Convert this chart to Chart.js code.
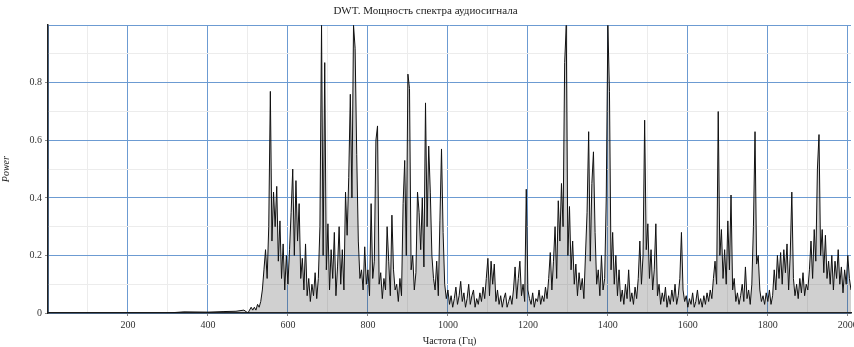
<!DOCTYPE html>
<html>
<head>
<meta charset="utf-8">
<script src="https://cdn.jsdelivr.net/npm/chart.js@4/dist/chart.umd.min.js"></script>
<style>
  html, body { margin: 0; padding: 0; background: #fff; }
  #wrap { width: 854px; height: 347px; }
</style>
</head>
<body>
<div id="wrap"><canvas id="spectrum" width="854" height="347"></canvas></div>
<script>
// flat part below 500 Hz
const lowFreqs = [0, 100, 200, 300, 340, 400, 440, 470, 490];
const lowPower = [0, 0, 0, 0, 0.004, 0.003, 0.005, 0.006, 0.01];

// main part, sampled every 4 Hz from 500 Hz
const gridStart = 500;
const gridStep = 4;
const power = [
  // 500 - 596
  0.00, 0.01, 0.02, 0.01, 0.02, 0.01, 0.03, 0.02, 0.04, 0.08, 0.15, 0.22, 0.12, 0.30, 0.77, 0.25, 0.42, 0.30, 0.44, 0.18, 0.32, 0.12, 0.24, 0.08, 0.20,
  // 600 - 696
  0.10, 0.22, 0.35, 0.50, 0.20, 0.46, 0.25, 0.38, 0.12, 0.19, 0.08, 0.24, 0.06, 0.12, 0.04, 0.10, 0.06, 0.14, 0.05, 0.12, 0.30, 1.00, 0.20, 0.87, 0.15,
  // 700 - 796
  0.31, 0.08, 0.22, 0.12, 0.28, 0.06, 0.16, 0.30, 0.10, 0.22, 0.08, 0.42, 0.27, 0.47, 0.76, 0.40, 1.00, 0.92, 0.55, 0.25, 0.12, 0.15, 0.08, 0.23, 0.10,
  // 800 - 896
  0.15, 0.06, 0.38, 0.12, 0.18, 0.60, 0.65, 0.10, 0.14, 0.05, 0.12, 0.08, 0.30, 0.18, 0.06, 0.34, 0.15, 0.08, 0.10, 0.04, 0.12, 0.06, 0.38, 0.53, 0.20,
  // 900 - 996
  0.83, 0.78, 0.15, 0.20, 0.08, 0.14, 0.42, 0.35, 0.22, 0.40, 0.16, 0.73, 0.30, 0.58, 0.42, 0.20, 0.12, 0.08, 0.18, 0.06, 0.32, 0.57, 0.28, 0.10, 0.05,
  // 1000 - 1096
  0.08, 0.03, 0.06, 0.02, 0.05, 0.09, 0.03, 0.06, 0.11, 0.04, 0.07, 0.02, 0.05, 0.10, 0.03, 0.06, 0.08, 0.02, 0.05, 0.03, 0.07, 0.04, 0.09, 0.05, 0.12,
  // 1100 - 1196
  0.19, 0.06, 0.18, 0.10, 0.17, 0.04, 0.08, 0.03, 0.06, 0.02, 0.05, 0.07, 0.02, 0.04, 0.06, 0.03, 0.08, 0.16, 0.05, 0.12, 0.18, 0.06, 0.10, 0.04, 0.43,
  // 1200 - 1296
  0.08, 0.05, 0.03, 0.07, 0.02, 0.05, 0.04, 0.08, 0.03, 0.06, 0.04, 0.09, 0.05, 0.12, 0.21, 0.08, 0.18, 0.30, 0.12, 0.39, 0.25, 0.45, 0.30, 0.87, 1.00,
  // 1300 - 1396
  0.20, 0.37, 0.15, 0.25, 0.10, 0.17, 0.06, 0.14, 0.08, 0.12, 0.05, 0.20, 0.35, 0.63, 0.18, 0.45, 0.56, 0.28, 0.10, 0.15, 0.06, 0.20, 0.08, 0.12, 0.40,
  // 1400 - 1496
  1.00, 0.77, 0.15, 0.28, 0.10, 0.20, 0.06, 0.15, 0.04, 0.08, 0.03, 0.10, 0.05, 0.15, 0.04, 0.07, 0.03, 0.09, 0.05, 0.12, 0.25, 0.10, 0.20, 0.67, 0.22,
  // 1500 - 1596
  0.31, 0.12, 0.22, 0.08, 0.15, 0.31, 0.06, 0.10, 0.03, 0.07, 0.04, 0.09, 0.02, 0.06, 0.03, 0.08, 0.04, 0.10, 0.03, 0.06, 0.12, 0.28, 0.08, 0.04, 0.06,
  // 1600 - 1696
  0.02, 0.05, 0.03, 0.07, 0.02, 0.04, 0.08, 0.03, 0.05, 0.02, 0.06, 0.03, 0.07, 0.04, 0.08, 0.05, 0.12, 0.18, 0.10, 0.70, 0.20, 0.29, 0.12, 0.22, 0.10,
  // 1700 - 1796
  0.32, 0.15, 0.41, 0.08, 0.12, 0.04, 0.07, 0.03, 0.06, 0.10, 0.04, 0.16, 0.05, 0.08, 0.03, 0.10, 0.30, 0.63, 0.17, 0.20, 0.08, 0.04, 0.06, 0.03, 0.07,
  // 1800 - 1896
  0.04, 0.08, 0.03, 0.06, 0.15, 0.08, 0.20, 0.12, 0.21, 0.10, 0.22, 0.14, 0.24, 0.08, 0.20, 0.42, 0.12, 0.06, 0.10, 0.05, 0.12, 0.07, 0.14, 0.06, 0.10,
  // 1900 - 1996
  0.08, 0.15, 0.25, 0.12, 0.29, 0.18, 0.50, 0.62, 0.20, 0.29, 0.14, 0.27, 0.12, 0.18, 0.10, 0.20, 0.08, 0.18, 0.12, 0.22, 0.10, 0.16, 0.07, 0.15, 0.10,
  // 2000 - 2008
  0.20, 0.12, 0.08
];

const xTicks = [200, 400, 600, 800, 1000, 1200, 1400, 1600, 1800, 2000];
const yTicks = [0, 0.2, 0.4, 0.6, 0.8];

const points = lowFreqs.map((f, i) => ({ x: f, y: lowPower[i] }));
power.forEach((p, i) => points.push({ x: gridStart + i * gridStep, y: p }));

// grid every 100 Hz / 0.1, labels only on the major lines
const xGrid = [];
for (let v = 0; v <= 2000; v += 100) xGrid.push(v);
const yGrid = [];
for (let k = 0; k <= 10; k++) yGrid.push(k / 10);

const serif = "'Liberation Serif', 'DejaVu Serif', serif";
const majorBlue = "#6c9bd2";
const minorGrey = "#ececec";

function isMajorX(v) { return v % 200 === 0; }
function isMajorY(v) { return Math.round(v * 10) % 2 === 0; }
function yLabel(v) {
  const r = Math.round(v * 10) / 10;
  return yTicks.includes(r) ? String(r) : "";
}

new Chart(document.getElementById("spectrum"), {
  type: "line",
  data: {
    datasets: [{
      data: points,
      borderColor: "#111",
      borderWidth: 1,
      backgroundColor: "rgba(40,40,40,0.22)",
      pointRadius: 0,
      tension: 0,
      fill: "origin"
    }]
  },
  options: {
    responsive: false,
    animation: false,
    layout: { padding: { left: 0, right: 3, top: 0, bottom: 0 } },
    plugins: {
      legend: { display: false },
      tooltip: { enabled: false },
      title: {
        display: true,
        text: "DWT. Мощность спектра аудиосигнала",
        color: "#222",
        font: { family: serif, size: 11, weight: "normal" },
        padding: { top: 5, bottom: 7 }
      }
    },
    scales: {
      x: {
        type: "linear",
        min: 0,
        max: 2008,
        afterFit: (s) => { s.height = 34; s.paddingRight = 0; s.paddingLeft = 0; },
        afterBuildTicks: (s) => { s.ticks = xGrid.map((v) => ({ value: v })); },
        ticks: {
          autoSkip: false,
          maxRotation: 0,
          padding: 3,
          color: "#333",
          font: { family: serif, size: 10 },
          callback: (v) => xTicks.includes(v) ? String(v) : ""
        },
        grid: {
          color: (c) => isMajorX(c.tick.value) ? majorBlue : minorGrey,
          tickColor: (c) => xTicks.includes(c.tick.value) ? "#888" : "transparent",
          tickLength: 3
        },
        border: { color: "#222", width: 1.5 },
        title: {
          display: true,
          text: "Частота (Гц)",
          color: "#222",
          font: { family: serif, size: 10 },
          padding: { top: 0, bottom: 0 }
        }
      },
      y: {
        min: 0,
        max: 1,
        afterFit: (s) => { s.width = 48; s.paddingTop = 0; s.paddingBottom = 0; },
        afterBuildTicks: (s) => { s.ticks = yGrid.map((v) => ({ value: v })); },
        ticks: {
          autoSkip: false,
          padding: 3,
          color: "#333",
          font: { family: serif, size: 10 },
          callback: (v) => yLabel(v)
        },
        grid: {
          color: (c) => isMajorY(c.tick.value) ? majorBlue : minorGrey,
          tickColor: (c) => yLabel(c.tick.value) !== "" ? "#888" : "transparent",
          tickLength: 3
        },
        border: { color: "#222", width: 1.5 },
        title: {
          display: true,
          text: "Power",
          color: "#222",
          font: { family: serif, size: 10, style: "italic" },
          padding: { top: 0, bottom: 4 }
        }
      }
    }
  }
});
</script>
</body>
</html>
